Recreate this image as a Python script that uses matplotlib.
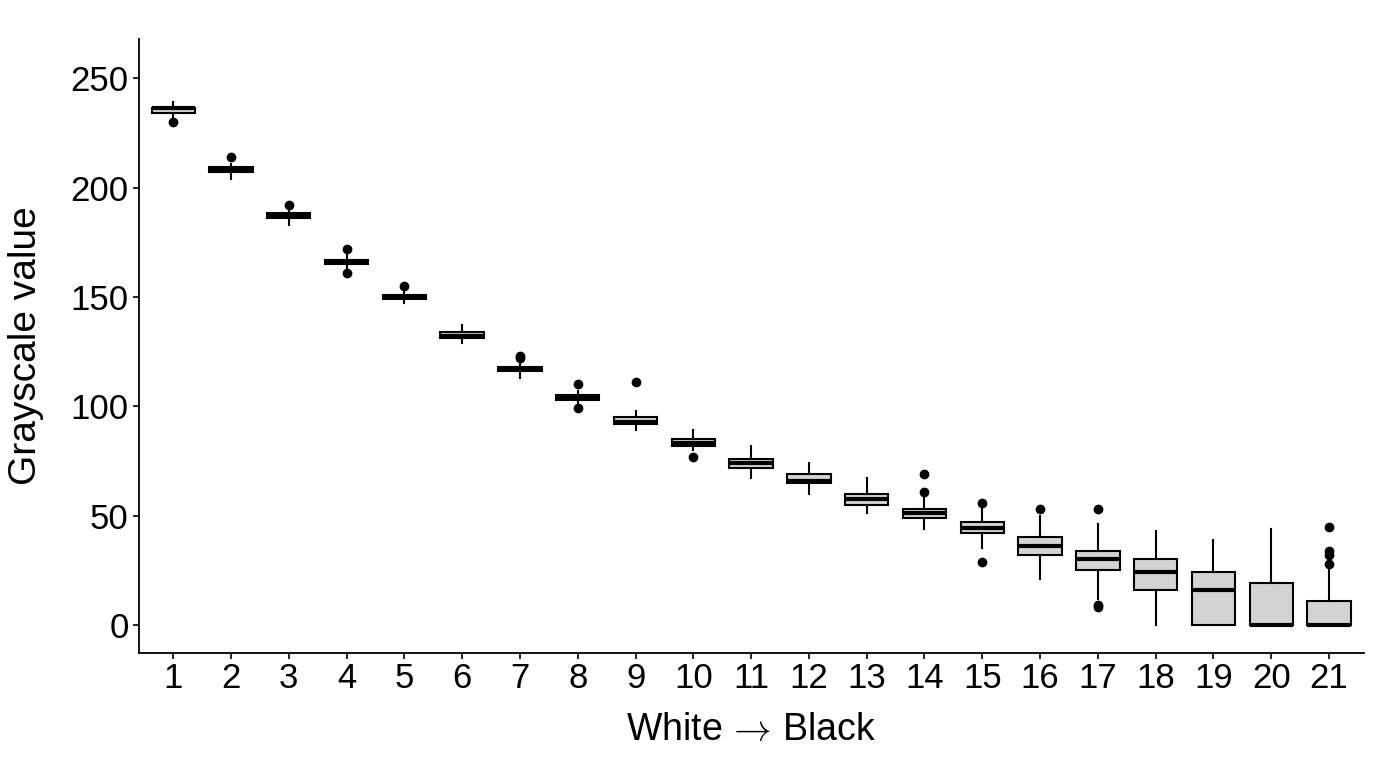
import matplotlib
matplotlib.use("Agg")
import matplotlib.pyplot as plt

plt.rcParams['font.family'] = ['Liberation Sans', 'DejaVu Sans']
plt.rcParams['mathtext.fontset'] = 'cm'

categories = [str(i) for i in range(1, 22)]
whislo = [232, 204, 183, 163, 147, 129, 113, 101, 89, 80, 67, 60, 51, 44, 35, 21, 12, 0, 0, 0, 0]
q1     = [234, 207, 186, 165, 149, 131, 116, 103, 92, 82, 72, 65, 55, 49, 42, 32, 25, 16, 0, 0, 0]
med    = [236.5, 208, 187, 166, 150, 132, 117, 104, 93, 83, 74, 66, 57.5, 51, 44.5, 36, 30, 24, 16, 0, 0]
q3     = [236.5, 209.5, 188.5, 167, 151, 134, 118, 105, 95, 85, 76, 69, 60, 53, 47, 40, 34, 30, 24, 19, 11]
whishi = [239, 211, 190, 170, 153, 137, 120, 107, 98, 89, 82, 74, 67, 58, 53, 50, 46, 43, 39, 44, 26]
fliers = [[230], [214], [192], [161, 172], [155], [], [122, 123], [99, 110], [111], [77],
          [], [], [], [61, 69], [29, 56], [53], [8, 9, 53], [], [], [], [28, 32, 34, 45]]

stats = []
for i, lab in enumerate(categories):
    stats.append(dict(label=lab, whislo=whislo[i], q1=q1[i], med=med[i], q3=q3[i],
                      whishi=whishi[i], fliers=fliers[i]))

fig = plt.figure(figsize=(13.73, 7.59), dpi=100)
ax = fig.add_axes([0.1009, 0.1400, 0.8923, 0.8082])

ax.bxp(stats, positions=range(1, 22), widths=0.75, patch_artist=True, showcaps=False,
       boxprops=dict(facecolor='#D3D3D3', edgecolor='black', linewidth=1.5),
       medianprops=dict(color='black', linewidth=3.0, solid_capstyle='butt'),
       whiskerprops=dict(color='black', linewidth=1.5),
       flierprops=dict(marker='o', markerfacecolor='black', markeredgecolor='black', markersize=6))

ax.set_xlim(0.4, 21.6)
ax.set_ylim(-12.7, 267.8)
ax.set_yticks([0, 50, 100, 150, 200, 250])
ax.set_xticks(range(1, 22))
ax.set_xticklabels(categories)

for s in ['top', 'right']:
    ax.spines[s].set_visible(False)
for s in ['left', 'bottom']:
    ax.spines[s].set_linewidth(1.3)

ax.tick_params(axis='both', direction='out', length=4, width=1.2, labelsize=25,
               colors='black', pad=3)
ax.set_xlabel('White $\\!\\rightarrow\\!$ Black', fontsize=27, labelpad=12)
ax.set_ylabel('Grayscale value', fontsize=28, labelpad=19)

fig.savefig('out.png', dpi=100)
